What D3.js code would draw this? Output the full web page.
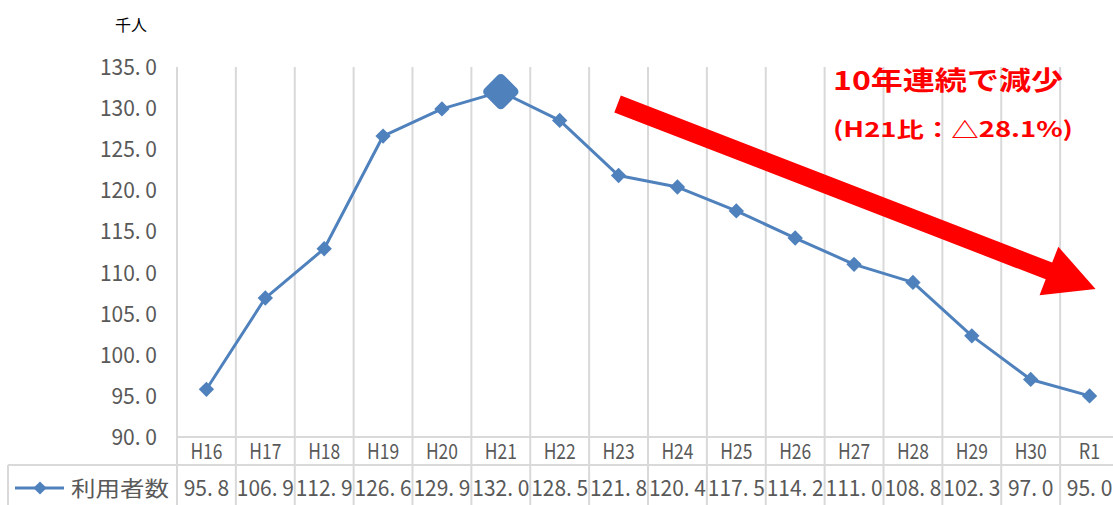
<!DOCTYPE html>
<meta charset="utf-8">
<head>
  <title>利用者数の推移</title>
</head>

<style>
body {
  margin: 0;
  background: #fff;
  font-family: "Noto Sans CJK JP", "Noto Sans", sans-serif;
}
</style>

<body>
  <div id="content">
    <svg width="1113" height="505"></svg>
  </div>

  <script src="https://cdnjs.cloudflare.com/ajax/libs/d3/7.8.5/d3.min.js"></script>

  <script>
var categories = ['H16', 'H17', 'H18', 'H19', 'H20', 'H21', 'H22', 'H23', 'H24', 'H25', 'H26', 'H27', 'H28', 'H29', 'H30', 'R1'];
var users = [95.8, 106.9, 112.9, 126.6, 129.9, 132.0, 128.5, 121.8, 120.4, 117.5, 114.2, 111.0, 108.8, 102.3, 97.0, 95.0];
var yTicks = [90, 95, 100, 105, 110, 115, 120, 125, 130, 135];
var seriesName = '利用者数';
var peakIndex = 5;

var svg = d3.select('#content svg');

var x = d3.scaleBand()
  .domain(categories)
  .range([177, 1119]);

var y = d3.scaleLinear()
  .domain([90, 135])
  .range([437, 67]);

var grid = '#d9d9d9';
var textGray = '#595959';
var blue = '#4f81bd';

// Excel-like number text: half-width period followed by a gap
function fmt(d) {
  return d3.format('.1f')(d).replace('.', '. ');
}
function numWidth(d) {
  return d3.format('.1f')(d).length * 11.4;
}

// vertical gridlines (plot + table)
var bounds = categories.map(function(c) { return x(c); }).concat([x.range()[1]]);
svg.selectAll('line.vgrid')
  .data(bounds)
  .enter().append('line')
  .attr('x1', function(d) { return d; })
  .attr('x2', function(d) { return d; })
  .attr('y1', y(135))
  .attr('y2', 505)
  .attr('stroke', grid)
  .attr('stroke-width', 2);

// horizontal table lines
svg.append('line')
  .attr('x1', x.range()[0]).attr('x2', 1113)
  .attr('y1', y(90)).attr('y2', y(90))
  .attr('stroke', grid).attr('stroke-width', 2);
svg.append('line')
  .attr('x1', 8).attr('x2', 1113)
  .attr('y1', 465).attr('y2', 465)
  .attr('stroke', grid).attr('stroke-width', 2);
svg.append('line')
  .attr('x1', 8).attr('x2', 8)
  .attr('y1', 465).attr('y2', 505)
  .attr('stroke', grid).attr('stroke-width', 2);

// y tick labels
svg.selectAll('text.ytick')
  .data(yTicks)
  .enter().append('text')
  .attr('x', 157)
  .attr('y', function(d) { return y(d) + 8; })
  .attr('text-anchor', 'end')
  .attr('fill', textGray)
  .style('font-size', '22px')
  .style('white-space', 'pre')
  .attr('textLength', numWidth)
  .attr('lengthAdjust', 'spacingAndGlyphs')
  .text(fmt);

svg.append('text')
  .attr('x', 131)
  .attr('y', 31)
  .attr('text-anchor', 'middle')
  .attr('fill', '#000')
  .style('font-size', '16px')
  .text('千人');

// category labels
svg.selectAll('text.cat')
  .data(categories)
  .enter().append('text')
  .attr('x', function(d) { return x(d) + x.bandwidth() / 2; })
  .attr('y', 459)
  .attr('text-anchor', 'middle')
  .attr('fill', textGray)
  .style('font-size', '21px')
  .attr('textLength', function(d) { return d.length * 10.7; })
  .attr('lengthAdjust', 'spacingAndGlyphs')
  .text(function(d) { return d; });

// table values
svg.selectAll('text.val')
  .data(users)
  .enter().append('text')
  .attr('x', function(d, i) { return x(categories[i]) + x.bandwidth() / 2; })
  .attr('y', 496)
  .attr('text-anchor', 'middle')
  .attr('fill', textGray)
  .style('font-size', '22px')
  .style('white-space', 'pre')
  .attr('textLength', numWidth)
  .attr('lengthAdjust', 'spacingAndGlyphs')
  .text(fmt);

// legend key in table
var diamond = d3.symbol().type(d3.symbolDiamond2);
svg.append('line')
  .attr('x1', 15).attr('x2', 64)
  .attr('y1', 488).attr('y2', 488)
  .attr('stroke', blue).attr('stroke-width', 3);
svg.append('path')
  .attr('d', diamond.size(110)())
  .attr('transform', 'translate(40,488)')
  .attr('fill', blue);
svg.append('text')
  .attr('x', 71)
  .attr('y', 496)
  .attr('fill', textGray)
  .style('font-size', '21px')
  .attr('textLength', 98)
  .attr('lengthAdjust', 'spacingAndGlyphs')
  .text(seriesName);

// series line
var line = d3.line()
  .x(function(d, i) { return x(categories[i]) + x.bandwidth() / 2; })
  .y(function(d) { return y(d); });

svg.append('path')
  .datum(users)
  .attr('d', line)
  .attr('fill', 'none')
  .attr('stroke', blue)
  .attr('stroke-width', 3)
  .attr('stroke-linejoin', 'round');

svg.selectAll('path.marker')
  .data(users)
  .enter().append('path')
  .attr('d', function(d, i) { return diamond.size(i === peakIndex ? 440 : 150)(); })
  .attr('transform', function(d, i) {
    return 'translate(' + (x(categories[i]) + x.bandwidth() / 2) + ',' + y(d) + ')';
  })
  .attr('fill', blue)
  .attr('stroke', blue)
  .attr('stroke-width', function(d, i) { return i === peakIndex ? 9 : 0; })
  .attr('stroke-linejoin', 'round');

// red trend arrow (anchored in data coordinates)
var ax0 = x('H23') + x.bandwidth() / 2 - 1, ay0 = y(130.5);
var ax1 = x('R1') + x.bandwidth() / 2 + 6, ay1 = y(108.0);
var ang = Math.atan2(ay1 - ay0, ax1 - ax0);
var len = Math.hypot(ax1 - ax0, ay1 - ay0);
var shaft = 9, headW = 26, headL = 50;
var arrowPts = [
  [0, -shaft], [len - headL, -shaft], [len - headL, -headW],
  [len, 0],
  [len - headL, headW], [len - headL, shaft], [0, shaft]
];
svg.append('path')
  .attr('d', d3.line()(arrowPts) + 'Z')
  .attr('transform', 'translate(' + ax0 + ',' + ay0 + ') rotate(' + (ang * 180 / Math.PI) + ')')
  .attr('fill', '#ff0000');

// annotation
svg.append('text')
  .attr('x', 833)
  .attr('y', 90)
  .attr('fill', '#ff0000')
  .style('font-size', '26px')
  .style('font-weight', 'bold')
  .attr('textLength', 230)
  .attr('lengthAdjust', 'spacingAndGlyphs')
  .text('10年連続で減少');

svg.append('text')
  .attr('x', 833)
  .attr('y', 137)
  .attr('fill', '#ff0000')
  .style('font-size', '21px')
  .style('font-weight', 'bold')
  .attr('textLength', 240)
  .attr('lengthAdjust', 'spacingAndGlyphs')
  .text('(H21比：△28.1%)');
  </script>
</body>
</html>
